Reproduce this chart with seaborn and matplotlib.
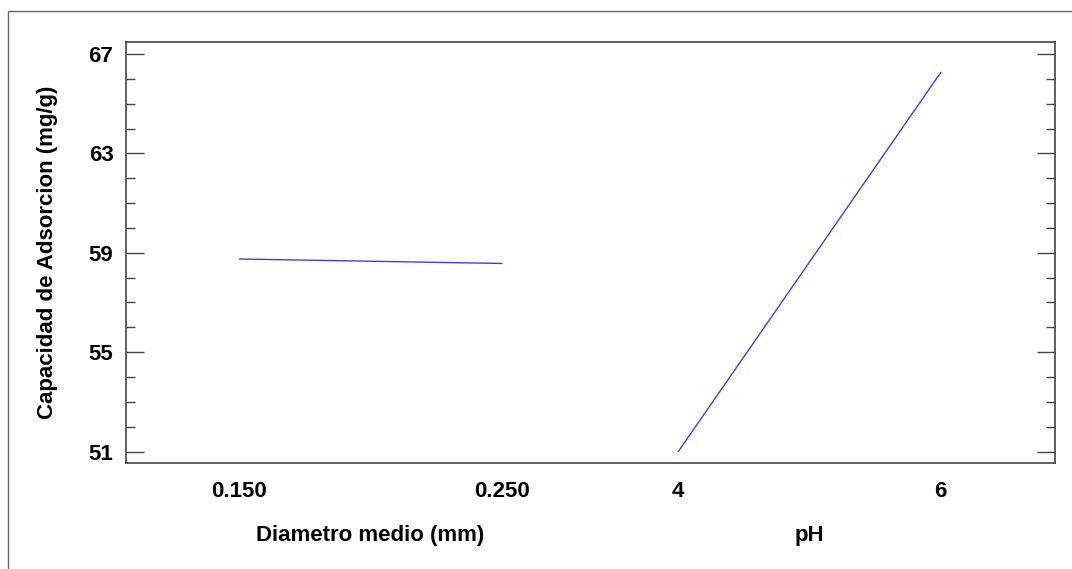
"""
Main effects plot - Capacidad de Adsorcion
"""

import matplotlib
matplotlib.use("Agg")
import matplotlib.pyplot as plt
from matplotlib.patches import Rectangle
from matplotlib.ticker import MultipleLocator
import seaborn as sns
import pandas as pd

# data
factors = ["Diametro medio (mm)", "pH"]
levels_diam = ["0.150", "0.250"]
levels_ph = ["4", "6"]
resp_diam = [58.75, 58.57]
resp_ph = [51.0, 66.26]

y_ticks = [51, 55, 59, 63, 67]

sns.set_style("ticks")
plt.rcParams["font.family"] = ["Liberation Sans", "DejaVu Sans"]
plt.rcParams["font.weight"] = "bold"
plt.rcParams["text.color"] = "black"
plt.rcParams["axes.labelcolor"] = "black"
plt.rcParams["xtick.labelcolor"] = "black"
plt.rcParams["ytick.labelcolor"] = "black"

FS = 16

# each factor gets its own low/high slot on a shared x axis
gap = 1.672
rows = []
for i, (fac, levs, vals) in enumerate([(factors[0], levels_diam, resp_diam),
                                       (factors[1], levels_ph, resp_ph)]):
    for j, (lv, v) in enumerate(zip(levs, vals)):
        rows.append({"factor": fac, "level": lv, "pos": i * gap + j, "resp": v})
df = pd.DataFrame(rows)

fig = plt.figure(figsize=(10.72, 5.69), dpi=100)
ax = fig.add_axes([0.1175, 0.1868, 0.8666, 0.7388])

for fac in factors:
    sub = df[df["factor"] == fac]
    sns.lineplot(data=sub, x="pos", y="resp", ax=ax, color="#3c3cff", lw=1.0)

ax.set_xlim(-0.432, 3.107)
ax.set_ylim(50.55, 67.47)
ax.set_xticks(df["pos"])
ax.set_xticklabels(df["level"], fontsize=FS, fontweight="bold")
ax.set_yticks(y_ticks)
ax.set_yticklabels([str(t) for t in y_ticks], fontsize=FS, fontweight="bold")
ax.yaxis.set_minor_locator(MultipleLocator(1))
ax.tick_params(axis="x", length=0, pad=13)
ax.tick_params(axis="y", which="major", direction="in", length=13, width=1,
               color="#444444", left=True, right=True, pad=9)
ax.tick_params(axis="y", which="minor", direction="in", length=6.5, width=1,
               color="#444444", left=True, right=True)
for sp in ax.spines.values():
    sp.set_visible(True)
    sp.set_color("#333333")
    sp.set_linewidth(1.1)

ax.set_xlabel("")
ax.set_ylabel("Capacidad de Adsorcion (mg/g)", fontsize=FS, fontweight="bold", labelpad=22)

for i, fac in enumerate(factors):
    mid = df[df["factor"] == fac]["pos"].mean()
    ax.text(mid, -0.172, fac, transform=ax.get_xaxis_transform(), ha="center",
            va="center", fontsize=FS, fontweight="bold")

# outer frame (only left and top edges fall inside the image)
fig.patches.append(Rectangle((8 / 1072, -0.1), 1.2, (569 - 11) / 569 + 0.1,
                             transform=fig.transFigure, fill=False,
                             edgecolor="#666666", lw=1.0))

plt.savefig("out.png", dpi=100)
